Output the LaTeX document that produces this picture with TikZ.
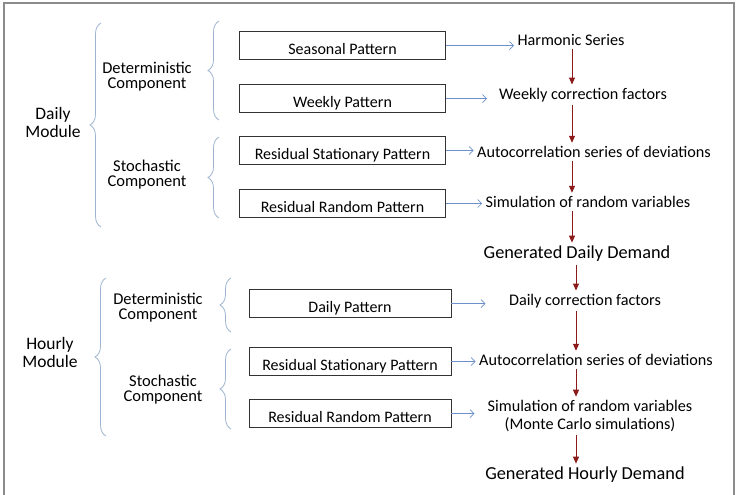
\documentclass[tikz,border=0pt]{standalone}
\usepackage{fontspec}
\setmainfont{Carlito}
\usetikzlibrary{arrows.meta,decorations.pathreplacing}
\definecolor{bracecol}{HTML}{9DB3CF}
\definecolor{bluearr}{HTML}{6D8FCB}
\definecolor{redarr}{HTML}{8B1A1A}
\tikzset{
  patbox/.style={draw=black!80, line width=0.8pt, minimum width=206pt, inner ysep=0pt,
    text height=23pt, text depth=5pt, font=\fontsize{16}{18}\selectfont},
  compo/.style={align=center, font=\fontsize{16.5}{15}\selectfont},
  modul/.style={align=center, font=\fontsize{17.5}{18}\selectfont},
  result/.style={align=center, font=\fontsize{16.2}{18}\selectfont},
  demand/.style={font=\fontsize{18.3}{20}\selectfont},
  curly/.style={bracecol, line width=0.8pt, decorate, decoration={brace, amplitude=11pt}},
  feed/.style={bluearr, line width=0.7pt, -{Straight Barb[length=4pt,width=8pt]}},
  chain/.style={redarr, line width=1pt, -{Triangle[length=7pt,width=6pt]}}
}
\begin{document}
\begin{tikzpicture}[x=1pt, y=-1pt]
  \useasboundingbox (0,0) rectangle (736,495);
  \draw[black!45, line width=1.5pt] (4,500) -- (4,3) -- (734,3) -- (734,500);   %frame

  % daily module
  \node[modul] (dmod) at (53,122) {Daily\\Module};
  \node[compo] (ddet) at (147,77) {Deterministic\\Component};
  \node[compo] (dsto) at (147,175) {Stochastic\\Component};
  \draw[curly] (101,227) -- (101,23);
  \draw[curly] (219,120) -- (219,21);
  \draw[curly] (219,218) -- (219,137);

  \node[patbox, anchor=south] (seas) at (342.5,60) {Seasonal Pattern};
  \node[patbox, anchor=south] (week) at (342.5,113) {Weekly Pattern};
  \node[patbox, anchor=south] (dstat) at (342.5,165) {Residual Stationary Pattern};
  \node[patbox, anchor=south] (drand) at (342.5,218) {Residual Random Pattern};

  \node[result] (harm) at (571,40) {Harmonic Series};
  \node[result] (wcorr) at (583,95) {Weekly correction factors};
  \node[result] (dauto) at (594,152) {Autocorrelation series of deviations};
  \node[result] (dsim) at (588,202) {Simulation of random variables};
  \node[demand] (gday) at (577,254) {Generated Daily Demand};

  \draw[feed] (seas.east) -- (seas.east -| harm.west);
  \draw[feed] (week.east) -- ++(41,0);
  \draw[feed] (dstat.east) -- (dstat.east -| dauto.west);
  \draw[feed] (drand.east) -- (drand.east -| dsim.west);

  \coordinate (colA) at (572,0);
  \draw[chain] (harm.south -| colA) -- (wcorr.north -| colA);
  \draw[chain] (wcorr.south -| colA) -- (dauto.north -| colA);
  \draw[chain] (dauto.south -| colA) -- (dsim.north -| colA);
  \draw[chain] (dsim.south -| colA) -- (gday.north -| colA);

  % hourly module
  \node[modul] (hmod) at (50,352) {Hourly\\Module};
  \node[compo] (hdet) at (158,308) {Deterministic\\Component};
  \node[compo] (hsto) at (163,390) {Stochastic\\Component};
  \draw[curly] (106,436) -- (106,278);
  \draw[curly] (231,332) -- (231,278);
  \draw[curly] (231,429) -- (231,349);

  \node[patbox, anchor=south, minimum width=202pt] (dpat) at (350,318) {Daily Pattern};
  \node[patbox, anchor=south, minimum width=202pt] (hstat) at (350,376) {Residual Stationary Pattern};
  \node[patbox, anchor=south, minimum width=202pt] (hrand) at (350,428) {Residual Random Pattern};

  \node[result] (dcorr) at (585,301) {Daily correction factors};
  \node[result] (hauto) at (596,360) {Autocorrelation series of deviations};
  \node[result] (hsim) at (590,416) {Simulation of random variables\\(Monte Carlo simulations)};
  \node[demand] (ghour) at (585,475) {Generated Hourly Demand};

  \draw[feed] (dpat.east) -- ++(34,0);
  \draw[feed] (hstat.east) -- (hstat.east -| hauto.west);
  \draw[feed] (hrand.east) -- ++(23,0);

  \coordinate (colB) at (576,0);
  \draw[chain] (gday.south -| colB) -- (dcorr.north -| colB);
  \draw[chain] (dcorr.south -| colB) -- (hauto.north -| colB);
  \draw[chain] (hauto.south -| colB) -- (hsim.north -| colB);
  \draw[chain] (hsim.south -| colB) -- (ghour.north -| colB);
\end{tikzpicture}
\end{document}
